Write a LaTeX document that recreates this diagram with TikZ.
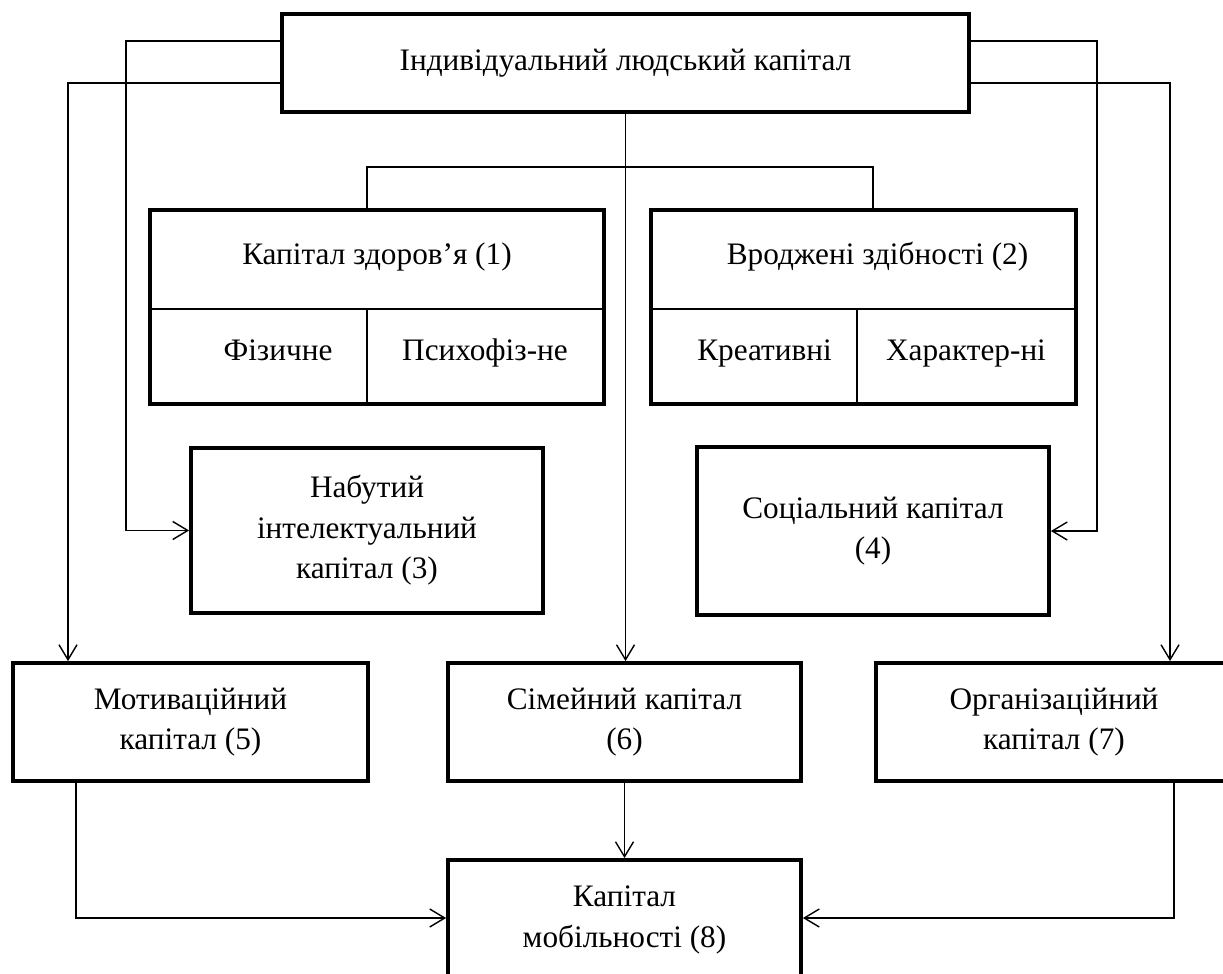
\documentclass[tikz,border=0pt]{standalone}
\usepackage{fontspec}
\setmainfont{Liberation Serif}
\usetikzlibrary{arrows.meta}

\begin{document}
\begin{tikzpicture}[
    x=0.02cm, y=-0.02cm,
    font=\fontsize{17.8}{23}\selectfont,
    box/.style={rectangle, draw, line width=2.2pt, align=center, inner sep=0pt},
    cell/.style={rectangle, draw, line width=0.8pt, align=center, inner sep=0pt,
        text height=1.6ex, text depth=0.4ex},
    link/.style={line width=0.8pt},
    arrow/.style={-{Straight Barb[length=3mm,width=3.6mm]}, line width=0.8pt}
]
    \clip (0,0) rectangle (1223,973);

    % Nodes
    \node[box, minimum width=13.74cm, minimum height=1.96cm] (individ) at (625.5,63) {Індивідуальний людський капітал};

    \node[cell, minimum width=9.04cm, minimum height=1.96cm] (health) at (377,260) {Капітал здоров’я (1)};
    \node[cell, minimum width=4.32cm, minimum height=1.88cm] (phys) at (259,356) {\hspace*{0.76cm}Фізичне};
    \node[cell, minimum width=4.72cm, minimum height=1.88cm] (psych) at (485,356) {Психофіз-не};
    \draw[line width=2.2pt] (health.north west) rectangle (psych.south east);

    \node[cell, minimum width=8.46cm, minimum height=1.96cm] (innate) at (863.5,260) {\hspace*{0.56cm}Вроджені здібності (2)};
    \node[cell, minimum width=4.1cm, minimum height=1.88cm] (creat) at (754.5,356) {\hspace*{0.4cm}Креативні};
    \node[cell, minimum width=4.36cm, minimum height=1.88cm] (charact) at (966,356) {Характер-ні};
    \draw[line width=2.2pt] (innate.north west) rectangle (charact.south east);

    \node[box, minimum width=7.04cm, minimum height=3.3cm] (intel) at (367,530.5) {Набутий\\інтелектуальний\\капітал (3)};
    \node[box, minimum width=7.04cm, minimum height=3.36cm] (social) at (873,531) {Соціальний капітал\\(4)};

    \node[box, minimum width=7.1cm, minimum height=2.36cm] (motiv) at (190.5,722) {Мотиваційний\\капітал (5)};
    \node[box, minimum width=7.06cm, minimum height=2.36cm] (family) at (624.5,722) {Сімейний капітал\\(6)};
    \node[box, minimum width=7.12cm, minimum height=2.36cm] (org) at (1054,722) {Організаційний\\капітал (7)};

    \node[box, minimum width=7.06cm, minimum height=2.4cm] (mobil) at (624.5,920) {Капітал\\мобільності (8)};

    % Arrows
    \draw[link] (health.north -| 367,0) -- (367,167) -| (innate.north -| 873,0);

    \draw[arrow] (individ.west |- 0,41) -| (intel.west -| 126,0) -- (intel.west);
    \draw[arrow] (individ.west |- 0,83) -| (motiv.north -| 68,0);
    \draw[arrow] (individ.east |- 0,41) -| (social.east -| 1097,0) -- (social.east);
    \draw[arrow] (individ.east |- 0,83) -| (org.north -| 1170,0);
    \draw[arrow] (individ.south) -- (individ.south |- family.north);

    \draw[arrow] (motiv.south -| 76,0) |- (mobil.west |- 0,918);
    \draw[arrow] (family) -- (mobil);
    \draw[arrow] (org.south -| 1174,0) |- (mobil.east |- 0,918);
\end{tikzpicture}
\end{document}
